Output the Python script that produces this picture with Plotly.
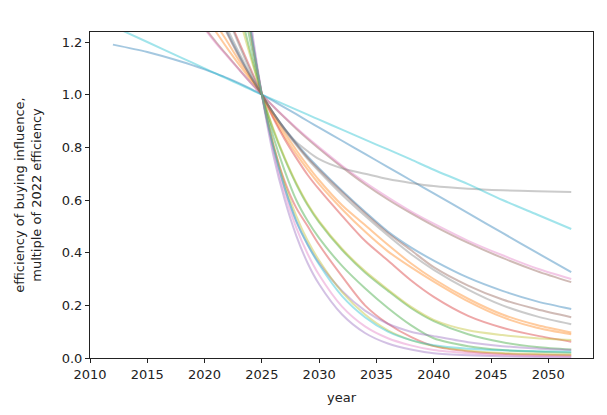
import plotly.graph_objects as go

# Sample years shared by every curve
years = [2012, 2015, 2018, 2020, 2021, 2022, 2023, 2024, 2025, 2026, 2027, 2028,
         2029, 2030, 2032, 2034, 2036, 2038, 2040, 2043, 2046, 2049, 2052]

# values (None = far above the visible range)
blue_a = [1.19, 1.162, 1.125, 1.096, 1.08, 1.063, 1.044, 1.023, 1.0, 0.976, 0.951, 0.926,
          0.90, 0.875, 0.825, 0.775, 0.725, 0.675, 0.625, 0.55, 0.475, 0.40, 0.326]
orange_a = [None, None, None, 1.30, 1.238, 1.175, 1.115, 1.057, 1.0, 0.915, 0.84, 0.775,
            0.715, 0.66, 0.565, 0.48, 0.405, 0.345, 0.29, 0.215, 0.155, 0.115, 0.09]
green_a = [None, None, None, None, None, 1.52, 1.34, 1.16, 1.0, 0.865, 0.755, 0.66,
           0.58, 0.515, 0.41, 0.325, 0.255, 0.19, 0.14, 0.09, 0.06, 0.042, 0.032]
red_a = [None, None, None, None, 1.40, 1.30, 1.20, 1.10, 1.0, 0.91, 0.83, 0.76,
         0.695, 0.64, 0.54, 0.445, 0.37, 0.295, 0.232, 0.16, 0.115, 0.085, 0.062]
purple_a = [None, None, None, None, None, None, 1.68, 1.29, 1.0, 0.77, 0.60, 0.465,
            0.36, 0.28, 0.165, 0.095, 0.055, 0.032, 0.018, 0.01, 0.006, 0.004, 0.003]
brown_a = [None, None, 1.38, 1.255, 1.20, 1.148, 1.097, 1.047, 1.0, 0.955, 0.912, 0.871,
           0.832, 0.795, 0.725, 0.66, 0.602, 0.55, 0.502, 0.437, 0.38, 0.33, 0.288]
pink_a = [None, None, 1.37, 1.25, 1.195, 1.145, 1.095, 1.046, 1.0, 0.956, 0.914, 0.874,
          0.836, 0.80, 0.73, 0.667, 0.61, 0.557, 0.51, 0.445, 0.39, 0.34, 0.30]
gray_a = [None, None, None, None, 1.43, 1.30, 1.19, 1.09, 1.0, 0.93, 0.87, 0.82,
          0.785, 0.755, 0.72, 0.70, 0.68, 0.665, 0.653, 0.643, 0.637, 0.633, 0.63]
olive_a = [None, None, None, None, None, 1.47, 1.30, 1.145, 1.0, 0.87, 0.76, 0.665,
           0.585, 0.52, 0.415, 0.33, 0.26, 0.195, 0.145, 0.105, 0.087, 0.075, 0.068]
cyan_a = [1.26, 1.20, 1.14, 1.10, 1.08, 1.06, 1.04, 1.02, 1.0, 0.981, 0.962, 0.943,
          0.924, 0.905, 0.867, 0.829, 0.792, 0.754, 0.715, 0.66, 0.60, 0.545, 0.49]

blue_b = [None, None, None, 1.45, 1.33, 1.235, 1.15, 1.07, 1.0, 0.93, 0.87, 0.815,
          0.765, 0.72, 0.635, 0.555, 0.48, 0.42, 0.37, 0.305, 0.255, 0.215, 0.186]
orange_b = [None, None, None, 1.36, 1.27, 1.20, 1.13, 1.065, 1.0, 0.925, 0.855, 0.79,
            0.73, 0.675, 0.58, 0.505, 0.43, 0.36, 0.30, 0.225, 0.165, 0.125, 0.097]
green_b = [None, None, None, None, None, None, 1.43, 1.20, 1.0, 0.84, 0.71, 0.60,
           0.52, 0.455, 0.35, 0.265, 0.19, 0.125, 0.075, 0.045, 0.03, 0.024, 0.02]
red_b = [None, None, None, None, None, None, 1.50, 1.24, 1.0, 0.81, 0.67, 0.57,
         0.50, 0.43, 0.31, 0.20, 0.13, 0.08, 0.045, 0.025, 0.016, 0.012, 0.01]
purple_b = [None, None, None, None, None, None, 1.55, 1.25, 1.0, 0.80, 0.645, 0.52,
            0.43, 0.36, 0.255, 0.18, 0.13, 0.10, 0.083, 0.06, 0.045, 0.036, 0.03]
brown_b = [None, None, None, 1.45, 1.33, 1.23, 1.145, 1.07, 1.0, 0.93, 0.868, 0.812,
           0.76, 0.715, 0.63, 0.55, 0.475, 0.41, 0.345, 0.275, 0.222, 0.185, 0.155]
pink_b = [None, None, None, None, None, None, 1.60, 1.26, 1.0, 0.79, 0.625, 0.495,
          0.395, 0.315, 0.195, 0.12, 0.075, 0.048, 0.03, 0.018, 0.011, 0.008, 0.006]
gray_b = [None, None, None, 1.48, 1.36, 1.25, 1.16, 1.075, 1.0, 0.93, 0.865, 0.808,
          0.755, 0.708, 0.62, 0.54, 0.465, 0.395, 0.335, 0.26, 0.20, 0.158, 0.128]
olive_b = [None, None, None, None, None, None, 1.52, 1.24, 1.0, 0.81, 0.66, 0.54,
           0.445, 0.37, 0.25, 0.165, 0.105, 0.068, 0.046, 0.028, 0.019, 0.015, 0.012]
cyan_b = [None, None, None, None, None, None, 1.55, 1.25, 1.0, 0.80, 0.645, 0.52,
          0.43, 0.355, 0.235, 0.155, 0.10, 0.068, 0.048, 0.035, 0.029, 0.026, 0.024]

curves = [blue_a, orange_a, green_a, red_a, purple_a, brown_a, pink_a, gray_a, olive_a, cyan_a,
          blue_b, orange_b, green_b, red_b, purple_b, brown_b, pink_b, gray_b, olive_b, cyan_b]

# matplotlib tab10 cycle
colors = ["#1f77b4", "#ff7f0e", "#2ca02c", "#d62728", "#9467bd",
          "#8c564b", "#e377c2", "#7f7f7f", "#bcbd22", "#17becf"]

fig = go.Figure()

for i, vals in enumerate(curves):
    fig.add_trace(go.Scatter(
        x=years,
        y=vals,
        mode="lines",
        line=dict(color=colors[i % 10], width=2, shape="spline", smoothing=0.8),
        opacity=0.4,
        showlegend=False,
        hoverinfo="skip",
    ))

font = dict(family="DejaVu Sans", size=13, color="#222")
axis_style = dict(
    showline=True, linecolor="#222", linewidth=1, mirror=True, automargin=False,
    ticks="outside", ticklen=4, tickcolor="#222", showgrid=False, zeroline=False,
    tickfont=font,
)

fig.update_xaxes(range=[2010, 2053.9], tickvals=list(range(2010, 2051, 5)),
                 title=dict(text="year", standoff=12, font=font),
                 **axis_style)
fig.update_yaxes(range=[0, 1.238], tickvals=[0, 0.2, 0.4, 0.6, 0.8, 1.0, 1.2], tickformat=".1f",
                 title=dict(text="efficiency of buying influence,<br>multiple of 2022 efficiency",
                            standoff=17, font=font),
                 **axis_style)

# page body adds an 8px offset, so the figure is a bit smaller than the window
fig.update_layout(
    width=599, height=407,
    margin=dict(l=82, r=14, t=24, b=57),
    plot_bgcolor="white", paper_bgcolor="white",
)

fig.write_html("out.html")
